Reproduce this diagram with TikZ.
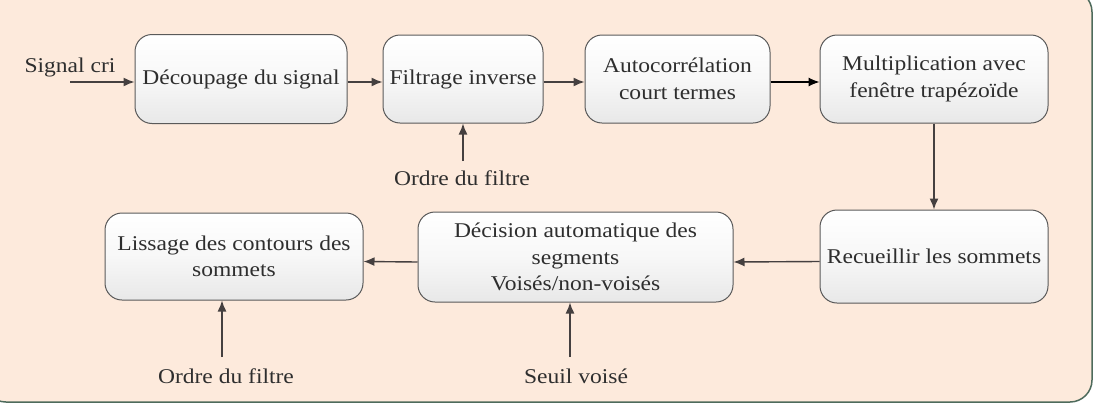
\documentclass[tikz,border=0pt]{standalone}
\usepackage{fontspec}
\setmainfont{Liberation Serif}[FakeStretch=1.12]
\usetikzlibrary{arrows.meta}
\definecolor{bgfill}{HTML}{FDEADC}
\definecolor{frameline}{HTML}{4E6B5C}
\definecolor{boxline}{HTML}{5A5A5A}
\definecolor{arrowcol}{HTML}{454040}
\definecolor{txtcol}{HTML}{2E2E2E}
\tikzset{
  blockbox/.style={draw=boxline, line width=1pt, rounded corners=17pt,
    top color=white, bottom color=black!9, middle color=white!97!black, align=center, inner sep=0pt,
    text=txtcol, font=\fontsize{21}{26.5}\selectfont},
  lbl/.style={inner sep=0pt, text=txtcol, font=\fontsize{21}{26.5}\selectfont},
  arr/.style={draw=arrowcol, line width=1.4pt, -{Latex[length=11pt,width=9pt]}},
  arrblack/.style={draw=black, line width=1.1pt, -{Latex[length=11pt,width=9pt]}}
}
\begin{document}
\begin{tikzpicture}[x=1pt,y=-1pt]
\useasboundingbox (0,0) rectangle (1096,405);
\draw[fill=bgfill, draw=frameline, line width=1.5pt, rounded corners=22pt] (-16,-10) rectangle (1092,402);

\node[blockbox, minimum width=212pt, minimum height=89pt] (dec) at (241,79) {Découpage du signal};
\node[blockbox, minimum width=160pt, minimum height=88pt] (fil) at (463,79) {Filtrage inverse};
\node[blockbox, minimum width=185pt, minimum height=88pt] (aut) at (677.5,79) {Autocorrélation\\court termes};
\node[blockbox, minimum width=228pt, minimum height=88pt] (mul) at (934,79) {Multiplication avec\\fenêtre trapézoïde};
\node[blockbox, minimum width=228pt, minimum height=93pt] (rec) at (934,256.5) {Recueillir les sommets};
\node[blockbox, minimum width=315pt, minimum height=90pt] (dcs) at (575.5,257) {Décision automatique des\\segments\\Voisés/non-voisés};
\node[blockbox, minimum width=258pt, minimum height=87pt] (lis) at (234,256.5) {Lissage des contours des\\sommets};

\node[lbl] (sig) at (70,67) {Signal cri};
\node[lbl] (ord1) at (462,178) {Ordre du filtre};
\node[lbl] (ord2) at (226,376) {Ordre du filtre};
\node[lbl] (seuil) at (576,376) {Seuil voisé};

\coordinate (sin) at (70,82);
\coordinate (o1) at (463,161);
\coordinate (o2) at (222,357);
\coordinate (s1) at (570,357);

\draw[arr] (sin) -- ([yshift=-3pt]dec.west);
\draw[arr] ([yshift=-3pt]dec.east) -- ([yshift=-3pt]fil.west);
\draw[arr] ([yshift=-3pt]fil.east) -- ([yshift=-3pt]aut.west);
\draw[arrblack] ([yshift=-3pt]aut.east) -- ([yshift=-3pt]mul.west);
\draw[arr] (mul.south) -- (rec.north);
\draw[arr] ([yshift=-5pt]rec.west) -- ([yshift=-5pt]dcs.east);
\draw[arr] ([yshift=-5pt]dcs.west) -- ([yshift=-5pt]lis.east);
\draw[arr] (o1) -- (fil.south);
\draw[arr] (o2) -- (lis.south -| o2);
\draw[arr] (s1) -- (dcs.south -| s1);
\end{tikzpicture}
\end{document}
